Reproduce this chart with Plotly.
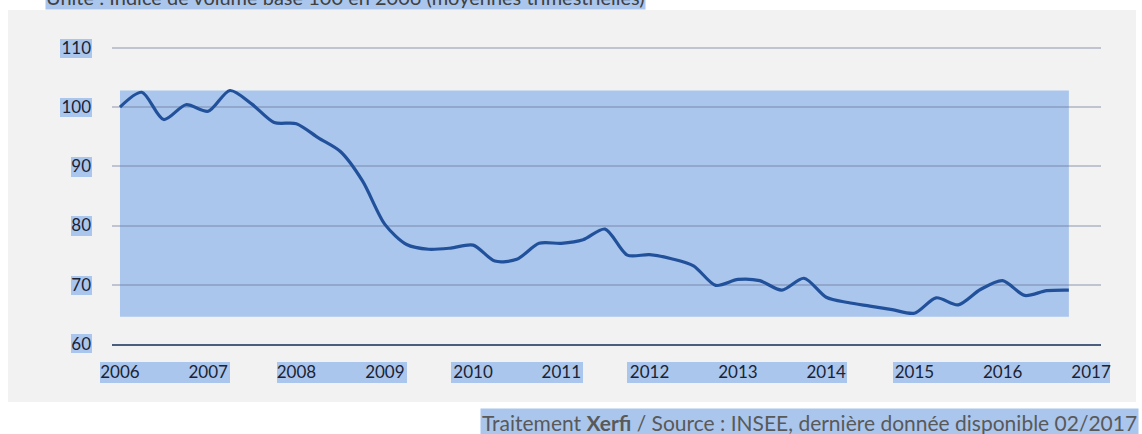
import plotly.graph_objects as go

# ---- data (quarterly averages, index base 100 in 2006) ----
years = list(range(2006, 2017))
quarter_months = [1, 4, 7, 10]
periods = [f"{y}-{m:02d}-01" for y in years for m in quarter_months]
values = [
    100.0, 102.5, 97.9, 100.4,   # 2006
    99.3, 102.8, 100.5, 97.4,    # 2007
    97.2, 94.8, 92.5, 87.5,      # 2008
    80.2, 76.8, 76.0, 76.2,      # 2009
    76.7, 74.0, 74.3, 77.0,      # 2010
    77.0, 77.6, 79.4, 75.0,      # 2011
    75.1, 74.4, 73.2, 69.9,      # 2012
    70.9, 70.7, 69.1, 71.1,      # 2013
    67.9, 67.0, 66.4, 65.8,      # 2014
    65.2, 67.8, 66.6, 69.2,      # 2015
    70.7, 68.2, 69.0, 69.1,      # 2016
]
x_tick_labels = [str(y) for y in range(2006, 2018)]
x_tick_vals = [f"{y}-01-01" for y in range(2006, 2018)]
y_tick_vals = [60, 70, 80, 90, 100, 110]

subtitle = "Unité : Indice de volume base 100 en 2006 (moyennes trimestrielles)"
source = "Traitement <b>Xerfi</b> / Source : INSEE, dernière donnée disponible 02/2017"

# ---- layout geometry (pixels) ----
W, H = 1142, 434
L, R, T, B = 112, 41, 36, 90
PW, PH = W - L - R, H - T - B

def px(x):
    return (x - L) / PW

def py(y):
    return (H - B - y) / PH

HL = "#aac6ec"
FONT = "Lato"
TXT = "#1a2335"

fig = go.Figure()
fig.add_trace(go.Scatter(
    x=periods, y=values, mode="lines",
    line=dict(color="#22519c", width=3.2, shape="spline", smoothing=0.8),
    hoverinfo="x+y", showlegend=False,
))

shapes = []
# grey chart background
shapes.append(dict(type="rect", xref="paper", yref="paper", layer="below",
                   x0=px(8), x1=px(1136), y0=py(402), y1=py(10),
                   fillcolor="#f2f2f2", line=dict(width=0)))
# selection highlight over plot
shapes.append(dict(type="rect", xref="x", yref="y", layer="below",
                   x0="2006-01-01", x1="2016-10-01", y0=64.6, y1=102.8,
                   fillcolor=HL, line=dict(width=0)))
# y tick label highlights
for (x0, x1, y0, y1) in [(60, 92, 39, 58), (60, 92, 98, 117), (71, 92, 157, 177),
                         (71, 92, 216, 236), (71, 92, 276, 295), (71, 92, 334, 353)]:
    shapes.append(dict(type="rect", xref="paper", yref="paper", layer="below",
                       x0=px(x0), x1=px(x1), y0=py(y1), y1=py(y0),
                       fillcolor=HL, line=dict(width=0)))
# x tick label highlights
for (x0, x1) in [(100, 230), (277, 407), (451, 583), (627, 847), (893, 1110)]:
    shapes.append(dict(type="rect", xref="paper", yref="paper", layer="below",
                       x0=px(x0), x1=px(x1), y0=py(383), y1=py(362),
                       fillcolor=HL, line=dict(width=0)))

annotations = [
    dict(text=subtitle, xref="paper", yref="paper", x=px(45), y=py(10),
         xanchor="left", yanchor="bottom", showarrow=False,
         font=dict(family=FONT, size=20, color="#404040"),
         bgcolor=HL, borderpad=0),
    dict(text=source, xref="paper", yref="paper", x=px(1139), y=py(422),
         xanchor="right", yanchor="middle", showarrow=False,
         font=dict(family=FONT, size=21, color="#595959"),
         bgcolor=HL, borderpad=1),
]

fig.update_layout(
    width=W, height=H,
    margin=dict(l=L, r=R, t=T, b=B, pad=0),
    paper_bgcolor="white", plot_bgcolor="rgba(0,0,0,0)",
    shapes=shapes, annotations=annotations,
    font=dict(family=FONT, size=17, color=TXT),
    xaxis=dict(type="date", range=["2005-11-29", "2017-02-11"],
               tickvals=x_tick_vals, ticktext=x_tick_labels,
               showgrid=False, zeroline=False, showline=True,
               linecolor="#4b5e7e", linewidth=1.5, ticks="",
               ticklabelstandoff=12,
               tickfont=dict(family=FONT, size=17, color=TXT)),
    yaxis=dict(range=[60, 112], tickvals=y_tick_vals,
               showgrid=True, gridcolor="rgba(100,112,145,0.35)", gridwidth=1.5,
               zeroline=False, showline=False, ticks="",
               ticklabelstandoff=20,
               tickfont=dict(family=FONT, size=17, color=TXT)),
)

fig.write_html("out.html", config={"displayModeBar": False},
               post_script="document.body.style.margin='0px';document.body.style.overflow='hidden';")
